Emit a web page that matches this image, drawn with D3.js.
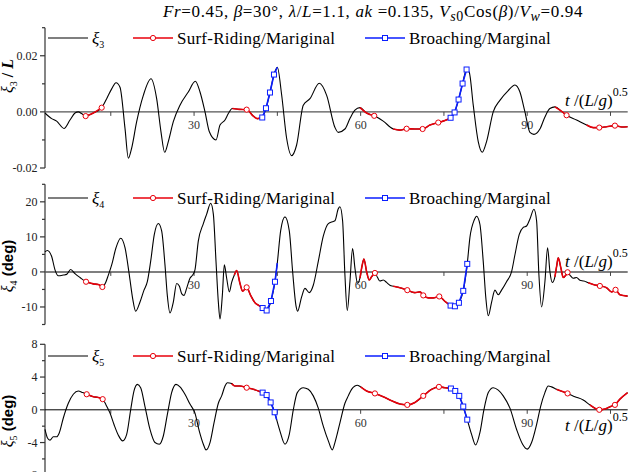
<!DOCTYPE html>
<html>
<head>
<meta charset="utf-8">
<script src="https://cdn.jsdelivr.net/npm/d3@7"></script>
<style>
  body { margin: 0; background: #fff; }
  svg text { font-family: "Liberation Serif", "Times New Roman", serif; fill: #000; }
</style>
</head>
<body>
<div id="chart"></div>
<script>
// time axis, t/(L/g)^0.5
const tDomain = [3.15, 108.1];
const xTicks = [15, 30, 45, 60, 75, 90, 105];
const xTickLabels = [30, 60, 90];

// heave xi3/L
const xi3 = [[3.15,-0.0004],[4.35,-0.0024],[5.25,-0.0033],[6.57,-0.0059],[7.65,-0.0029],[8.55,-0.0004],[9.15,0.0],[9.75,-0.0006],[10.47,-0.0015],[11.86,-0.0004],[13.36,0.0015],[14.26,0.0047],[15.16,0.0082],[15.94,0.0104],[16.66,0.0088],[17.56,-0.0059],[18.16,-0.0165],[18.76,-0.0129],[19.66,-0.0035],[20.86,0.0059],[22.24,0.0118],[23.26,0.0047],[24.04,-0.0071],[24.70,-0.0144],[25.36,-0.0106],[26.26,-0.0035],[27.46,0.0024],[28.96,0.0071],[30.22,0.0109],[31.07,0.0071],[31.97,0.0],[32.75,-0.0071],[33.95,-0.0100],[34.67,-0.0047],[35.57,-0.0029],[36.17,-0.0006],[36.89,0.0012],[38.15,0.0009],[39.47,0.0008],[40.67,-0.0015],[41.39,-0.0024],[42.28,-0.0020],[42.95,0.0013],[43.67,0.0069],[44.39,0.0133],[45.0,0.0159],[45.77,0.0061],[46.67,-0.0094],[47.57,-0.0156],[48.47,-0.0118],[49.67,0.0024],[50.87,0.0047],[52.55,0.0102],[53.88,0.0059],[55.38,-0.0056],[55.97,-0.0073],[57.17,-0.0061],[58.07,-0.0024],[58.97,0.0006],[59.87,0.0015],[61.07,-0.0004],[62.45,-0.0014],[64.07,-0.0033],[65.87,-0.0061],[67.08,-0.0065],[68.28,-0.0060],[69.78,-0.0061],[71.16,-0.0061],[72.48,-0.0047],[73.98,-0.0038],[75.18,-0.0031],[76.20,-0.0021],[76.92,-0.0002],[77.64,0.0044],[78.36,0.0101],[79.08,0.0151],[79.56,0.0141],[80.28,0.0024],[81.18,-0.0106],[81.90,-0.0144],[82.68,-0.0106],[83.88,0.0],[85.08,0.0041],[86.58,0.0076],[87.79,0.0096],[88.69,0.0071],[89.59,0.0],[90.49,-0.0073],[91.21,-0.0080],[92.29,-0.0061],[93.19,-0.0018],[94.09,0.0012],[94.99,0.0018],[96.19,0.0002],[97.09,-0.0012],[98.89,-0.0029],[100.69,-0.0047],[101.89,-0.0056],[102.98,-0.0056],[104.30,-0.0053],[105.80,-0.0049],[107.00,-0.0054],[108.08,-0.0053]];
const surf3 = [
  [[10.47,-0.0015],[11.86,-0.0004],[13.36,0.0015]],
  [[36.89,0.0012],[38.15,0.0009],[39.47,0.0008],[40.67,-0.0015],[41.39,-0.0024],[42.28,-0.0020]],
  [[59.87,0.0015],[61.07,-0.0004],[62.45,-0.0014]],
  [[65.87,-0.0061],[67.08,-0.0065],[68.28,-0.0060],[69.78,-0.0061],[71.16,-0.0061],[72.48,-0.0047],[73.98,-0.0038],[75.18,-0.0031],[76.20,-0.0021]],
  [[94.99,0.0018],[96.19,0.0002],[97.09,-0.0012]],
  [[100.69,-0.0047],[101.89,-0.0056],[102.98,-0.0056],[104.30,-0.0053],[105.80,-0.0049],[107.00,-0.0054],[108.08,-0.0053]]
];
const surfMarks3 = [[10.47,-0.0015],[13.36,0.0015],[39.47,0.0008],[62.45,-0.0014],[68.28,-0.0060],[71.16,-0.0061],[73.98,-0.0038],[97.09,-0.0012],[102.98,-0.0056],[105.80,-0.0049]];
const broach3 = [
  [[42.28,-0.0020],[42.95,0.0013],[43.67,0.0069],[44.39,0.0133],[45.0,0.0159]],
  [[76.20,-0.0021],[76.92,-0.0002],[77.64,0.0044],[78.36,0.0101],[79.08,0.0151]]
];
const broachMarks3 = [[42.28,-0.0020],[42.95,0.0013],[43.67,0.0069],[44.39,0.0133],[76.20,-0.0021],[76.92,-0.0002],[77.64,0.0044],[78.36,0.0101],[79.08,0.0151]];
const yTicks3 = [-0.02, 0.0, 0.02];
const yMinor3 = [-0.01, 0.01, 0.03];

// roll xi4 (deg)
const xi4 = [[3.15,5.7],[3.57,6.1],[4.35,4.4],[4.95,0.6],[5.55,-1.1],[6.45,-0.9],[7.05,-0.7],[7.77,0.7],[8.55,-0.5],[9.45,-1.6],[10.54,-2.8],[11.86,-3.4],[12.76,-3.6],[13.48,-4.3],[14.08,-3.0],[14.56,-0.9],[15.16,2.0],[15.94,6.9],[16.78,9.6],[17.56,6.9],[18.34,-0.9],[18.94,-7.6],[19.48,-11.2],[20.26,-8.6],[20.98,-5.2],[21.58,-2.8],[22.18,3.0],[22.84,10.7],[23.56,13.8],[24.16,11.7],[24.76,2.0],[25.18,-6.7],[25.66,-11.7],[26.26,-8.6],[26.86,-3.3],[27.34,-4.0],[27.76,-6.2],[28.18,-6.7],[28.66,-4.7],[29.26,-1.8],[29.74,-0.9],[30.16,0.6],[30.76,8.8],[31.67,13.8],[32.27,16.5],[32.99,19.6],[33.47,16.5],[33.95,3.0],[34.37,-8.6],[34.67,-13.4],[35.09,-6.7],[35.45,2.0],[35.87,-1.8],[36.35,-5.7],[36.77,-3.0],[37.25,-0.9],[37.67,0.4],[38.27,-3.3],[38.75,-5.5],[39.47,-4.4],[40.19,-6.7],[40.97,-8.8],[41.69,-9.6],[42.35,-10.3],[43.07,-11.0],[43.85,-8.3],[44.57,-2.8],[44.99,2.5],[45.59,11.7],[46.37,15.7],[47.15,11.7],[47.75,0.1],[48.35,-9.6],[48.65,-11.2],[49.37,-7.1],[49.97,-4.7],[50.75,-5.9],[51.47,-3.8],[52.37,3.0],[53.27,10.2],[54.18,13.8],[55.08,14.4],[55.37,14.6],[55.97,18.0],[56.27,18.6],[56.75,14.6],[57.17,-0.9],[57.59,-11.0],[58.07,-2.8],[58.55,6.7],[58.97,1.1],[59.45,-3.3],[59.87,-1.8],[60.29,2.0],[60.59,3.7],[61.07,0.1],[61.55,-2.3],[61.97,-1.4],[62.57,-0.3],[63.05,-1.6],[63.47,-2.6],[64.07,-2.3],[64.67,-3.0],[65.27,-3.8],[65.87,-4.1],[67.07,-4.5],[68.40,-5.2],[69.78,-5.9],[70.68,-5.7],[71.28,-6.7],[72.18,-7.4],[73.08,-7.4],[74.16,-7.0],[75.18,-8.4],[76.20,-9.6],[76.98,-9.8],[77.70,-8.8],[78.48,-5.4],[79.20,2.3],[79.68,9.8],[80.46,14.8],[80.88,15.9],[81.48,13.6],[82.08,3.0],[82.56,-7.6],[82.99,-12.5],[83.59,-8.6],[84.19,-5.2],[84.79,-6.5],[85.38,-5.2],[86.28,-2.8],[87.19,0.1],[87.79,4.9],[88.57,10.7],[89.29,12.7],[89.89,13.1],[90.49,15.1],[91.21,17.9],[91.69,14.6],[92.11,-0.9],[92.59,-10.0],[93.19,-2.8],[93.67,6.9],[94.09,0.1],[94.51,-3.0],[94.99,-1.4],[95.29,1.5],[95.59,4.0],[96.07,1.1],[96.49,-1.6],[96.97,-0.9],[97.27,-0.1],[97.69,-0.9],[98.29,-1.8],[98.89,-1.6],[99.49,-2.4],[100.21,-2.6],[100.99,-3.1],[101.89,-3.6],[103.09,-4.0],[104.29,-4.5],[105.19,-5.7],[105.91,-5.1],[106.69,-6.5],[108.08,-6.9]];
const surf4 = [
  [[10.54,-2.8],[11.86,-3.4],[12.76,-3.6],[13.48,-4.3]],
  [[37.25,-0.9],[37.67,0.4],[38.27,-3.3],[38.75,-5.5],[39.47,-4.4],[40.19,-6.7],[40.97,-8.8],[41.69,-9.6],[42.35,-10.3]],
  [[59.87,-1.8],[60.29,2.0],[60.59,3.7],[61.07,0.1],[61.55,-2.3],[61.97,-1.4],[62.57,-0.3]],
  [[65.87,-4.1],[67.07,-4.5],[68.40,-5.2],[69.78,-5.9],[70.68,-5.7],[71.28,-6.7],[72.18,-7.4],[73.08,-7.4],[74.16,-7.0],[75.18,-8.4],[76.20,-9.6]],
  [[94.99,-1.4],[95.29,1.5],[95.59,4.0],[96.07,1.1],[96.49,-1.6],[96.97,-0.9],[97.27,-0.1]],
  [[100.99,-3.1],[101.89,-3.6],[103.09,-4.0],[104.29,-4.5],[105.19,-5.7],[105.91,-5.1],[106.69,-6.5],[108.08,-6.9]]
];
const surfMarks4 = [[10.54,-2.8],[13.48,-4.3],[39.47,-4.4],[62.57,-0.3],[68.40,-5.2],[71.28,-6.7],[74.16,-7.0],[97.27,-0.1],[103.09,-4.0],[105.91,-5.1]];
const broach4 = [
  [[42.35,-10.3],[43.07,-11.0],[43.85,-8.3],[44.57,-2.8],[44.99,2.5]],
  [[76.20,-9.6],[76.98,-9.8],[77.70,-8.8],[78.48,-5.4],[79.20,2.3]]
];
const broachMarks4 = [[42.35,-10.3],[43.07,-11.0],[43.85,-8.3],[44.57,-2.8],[76.20,-9.6],[76.98,-9.8],[77.70,-8.8],[78.48,-5.4],[79.20,2.3]];
const yTicks4 = [-10, 0, 10, 20];
const yMinor4 = [-15, -5, 5, 15, 25];

// pitch xi5 (deg)
const xi5 = [[3.15,-2.4],[3.57,-3.4],[4.05,-3.7],[4.65,-3.3],[5.25,-3.3],[5.73,-2.8],[6.45,-1.0],[7.35,0.8],[8.25,1.9],[9.15,2.3],[9.93,2.1],[10.66,1.9],[11.86,1.6],[12.76,1.5],[13.54,1.3],[14.14,0.6],[14.86,-0.4],[15.58,-1.8],[16.36,-3.1],[17.14,-3.8],[17.86,-3.0],[18.58,0.0],[19.18,2.3],[19.78,3.1],[20.38,2.7],[21.16,0.4],[22.06,-2.4],[22.96,-4.0],[23.74,-4.2],[24.46,-3.2],[25.18,-0.6],[25.96,2.1],[26.74,3.1],[27.46,2.8],[28.36,1.9],[29.26,0.7],[30.16,-0.4],[30.94,-2.6],[31.67,-4.2],[32.15,-4.9],[32.87,-4.0],[33.59,-1.6],[34.37,0.8],[34.97,1.7],[35.57,2.9],[35.99,3.3],[36.77,3.2],[37.37,2.9],[38.27,2.9],[39.47,2.7],[40.67,2.5],[41.57,2.3],[42.35,2.1],[43.07,1.8],[43.79,0.9],[44.51,-0.3],[44.87,-1.2],[45.47,-2.6],[46.37,-4.2],[47.15,-3.0],[47.87,0.0],[48.59,2.1],[49.67,2.7],[50.57,2.5],[51.47,1.7],[52.37,0.2],[53.27,-2.0],[54.18,-3.8],[54.9,-4.9],[55.37,-4.0],[56.27,-1.6],[57.17,0.8],[57.77,1.7],[58.37,2.5],[58.97,2.9],[59.39,3.0],[59.99,2.8],[61.07,2.3],[62.57,2.0],[64.07,1.6],[65.58,1.1],[67.08,0.7],[68.40,0.6],[69.78,0.9],[71.28,1.7],[72.78,2.5],[74.10,2.8],[75.18,2.7],[76.26,2.6],[77.04,2.3],[77.76,1.7],[78.48,0.4],[79.20,-1.2],[79.98,-3.0],[80.70,-4.3],[81.48,-2.8],[82.20,0.0],[82.99,2.1],[83.88,2.7],[84.79,2.4],[85.68,1.7],[86.89,0.2],[88.09,-2.4],[89.17,-4.2],[90.01,-4.8],[90.79,-4.0],[91.69,-1.8],[92.41,0.4],[93.19,2.1],[93.79,2.9],[94.39,2.8],[95.29,2.5],[96.49,2.2],[97.27,2.0],[98.59,1.6],[100.09,1.2],[101.29,0.6],[102.19,0.2],[102.98,0.0],[104.00,0.1],[105.02,0.4],[105.80,0.6],[106.70,1.3],[108.08,2.1]];
const surf5 = [
  [[10.66,1.9],[11.86,1.6],[12.76,1.5],[13.54,1.3]],
  [[36.77,3.2],[37.37,2.9],[38.27,2.9],[39.47,2.7],[40.67,2.5],[41.57,2.3],[42.35,2.1]],
  [[59.99,2.8],[61.07,2.3],[62.57,2.0],[64.07,1.6],[65.58,1.1],[67.08,0.7],[68.40,0.6],[69.78,0.9],[71.28,1.7],[72.78,2.5],[74.10,2.8],[75.18,2.7],[76.26,2.6]],
  [[95.29,2.5],[96.49,2.2],[97.27,2.0]],
  [[101.29,0.6],[102.19,0.2],[102.98,0.0],[104.00,0.1],[105.02,0.4],[105.80,0.6],[106.70,1.3],[108.08,2.1]]
];
const surfMarks5 = [[10.66,1.9],[13.54,1.3],[39.47,2.7],[62.57,2.0],[68.40,0.6],[71.28,1.7],[74.10,2.8],[97.27,2.0],[102.98,0.0],[105.80,0.6]];
const broach5 = [
  [[42.35,2.1],[43.07,1.8],[43.79,0.9],[44.51,-0.3],[44.87,-1.2]],
  [[76.26,2.6],[77.04,2.3],[77.76,1.7],[78.48,0.4],[79.20,-1.2]]
];
const broachMarks5 = [[42.35,2.1],[43.07,1.8],[43.79,0.9],[44.51,-0.3],[76.26,2.6],[77.04,2.3],[77.76,1.7],[78.48,0.4],[79.20,-1.2]];
const yTicks5 = [-8, -4, 0, 4, 8];
const yMinor5 = [-6, -2, 2, 6];

const legendLabels = ["Surf-Riding/Mariginal", "Broaching/Marginal"];

const RED = "#e8000b", BLUE = "#0a1eff";

const svg = d3.select("#chart").append("svg")
  .attr("width", 637).attr("height", 472);

const x = d3.scaleLinear().domain(tDomain).range([45, 627.7]);

const panels = [
  { idx: "3", data: xi3, surf: surf3, surfMarks: surfMarks3, broach: broach3, broachMarks: broachMarks3,
    domain: [-0.02, 0.03], range: [168, 27.7], ticks: yTicks3, minor: yMinor3, fmt: d => d.toFixed(2),
    legendY: 38, zero: "#555", zeroW: 1.4, titleY: 76, xLabelDy: -6 },
  { idx: "4", data: xi4, surf: surf4, surfMarks: surfMarks4, broach: broach4, broachMarks: broachMarks4,
    domain: [-15, 25], range: [324.5, 184.3], ticks: yTicks4, minor: yMinor4, fmt: d => String(d),
    legendY: 198, zero: "#555", zeroW: 1.4, titleY: 266, xLabelDy: -5 },
  { idx: "5", data: xi5, surf: surf5, surfMarks: surfMarks5, broach: broach5, broachMarks: broachMarks5,
    domain: [-8, 8], range: [475.3, 344.3], ticks: yTicks5, minor: yMinor5, fmt: d => String(d),
    legendY: 356, zero: "#000", zeroW: 1, titleY: 421, xLabelDy: 21 }
];

panels.forEach(p => {
  const y = d3.scaleLinear().domain(p.domain).range(p.range);
  const g = svg.append("g");
  const y0 = y(0);

  // left axis
  g.append("line").attr("x1", 45).attr("x2", 45)
    .attr("y1", p.range[0]).attr("y2", p.range[1])
    .attr("stroke", "#333").attr("stroke-width", 1.2);
  g.selectAll(".maj").data(p.ticks).join("line")
    .attr("x1", 40).attr("x2", 45).attr("y1", d => y(d)).attr("y2", d => y(d))
    .attr("stroke", "#333").attr("stroke-width", 1.2);
  g.selectAll(".mnr").data(p.minor).join("line")
    .attr("x1", 42).attr("x2", 45).attr("y1", d => y(d)).attr("y2", d => y(d))
    .attr("stroke", "#333").attr("stroke-width", 1.2);
  g.selectAll(".ylab").data(p.ticks).join("text")
    .attr("x", 37.5).attr("y", d => y(d) + 4)
    .attr("text-anchor", "end").attr("font-size", 12).style("fill", "#222")
    .text(p.fmt);

  // zero line used as time axis
  g.append("line").attr("x1", 45).attr("x2", 627.7).attr("y1", y0).attr("y2", y0)
    .attr("stroke", p.zero).attr("stroke-width", p.zeroW);
  g.selectAll(".xt").data(xTicks).join("line")
    .attr("x1", d => x(d)).attr("x2", d => x(d))
    .attr("y1", y0).attr("y2", y0 + 4)
    .attr("stroke", "#444").attr("stroke-width", 1);
  g.selectAll(".xl").data(xTickLabels).join("text")
    .attr("x", d => x(d)).attr("y", y0 + 17)
    .attr("text-anchor", "middle").attr("font-size", 12).style("fill", "#333")
    .text(d => d);

  // time label
  const tl = g.append("text").attr("x", 565).attr("y", y0 + p.xLabelDy).attr("font-size", 17);
  tl.append("tspan").attr("font-style", "italic").text("t");
  tl.append("tspan").text(" /(");
  tl.append("tspan").attr("font-style", "italic").text("L");
  tl.append("tspan").text("/");
  tl.append("tspan").attr("font-style", "italic").text("g");
  tl.append("tspan").text(")");
  tl.append("tspan").attr("font-size", 12).attr("dy", -10).text("0.5");

  // series
  const smooth = d3.line().curve(d3.curveMonotoneX).x(d => x(d[0])).y(d => y(d[1]));
  const straight = d3.line().x(d => x(d[0])).y(d => y(d[1]));

  g.append("path").datum(p.data)
    .attr("fill", "none").attr("stroke", "#000").attr("stroke-width", 1.1)
    .attr("stroke-linejoin", "round").attr("d", smooth);

  g.selectAll(".surf").data(p.surf).join("path")
    .attr("fill", "none").attr("stroke", RED).attr("stroke-width", 1.6)
    .attr("stroke-linejoin", "round").attr("d", smooth);
  g.selectAll(".broach").data(p.broach).join("path")
    .attr("fill", "none").attr("stroke", BLUE).attr("stroke-width", 1.6)
    .attr("d", straight);

  g.selectAll(".sm").data(p.surfMarks).join("circle")
    .attr("cx", d => x(d[0])).attr("cy", d => y(d[1])).attr("r", 2.6)
    .attr("fill", "#fff").attr("stroke", RED).attr("stroke-width", 1);
  g.selectAll(".bm").data(p.broachMarks).join("rect")
    .attr("x", d => x(d[0]) - 2.5).attr("y", d => y(d[1]) - 2.5)
    .attr("width", 5).attr("height", 5)
    .attr("fill", "#fff").attr("stroke", BLUE).attr("stroke-width", 1);

  // legend
  const ly = p.legendY;
  g.append("line").attr("x1", 48).attr("x2", 88).attr("y1", ly).attr("y2", ly)
    .attr("stroke", "#000").attr("stroke-width", 1.1);
  const lt = g.append("text").attr("x", 92).attr("y", ly + 6).attr("font-size", 17);
  lt.append("tspan").attr("font-style", "italic").text("ξ");
  lt.append("tspan").attr("font-size", 10).attr("dy", 4).text(p.idx);

  g.append("line").attr("x1", 133).attr("x2", 173).attr("y1", ly).attr("y2", ly)
    .attr("stroke", RED).attr("stroke-width", 1.6);
  g.append("circle").attr("cx", 153).attr("cy", ly).attr("r", 2.6)
    .attr("fill", "#fff").attr("stroke", RED).attr("stroke-width", 1);
  g.append("text").attr("x", 177).attr("y", ly + 6).attr("font-size", 17)
    .attr("letter-spacing", 0.25).text(legendLabels[0]);

  g.append("line").attr("x1", 365).attr("x2", 405).attr("y1", ly).attr("y2", ly)
    .attr("stroke", BLUE).attr("stroke-width", 1.6);
  g.append("rect").attr("x", 382.5).attr("y", ly - 2.5).attr("width", 5).attr("height", 5)
    .attr("fill", "#fff").attr("stroke", BLUE).attr("stroke-width", 1);
  g.append("text").attr("x", 409).attr("y", ly + 6).attr("font-size", 17)
    .attr("letter-spacing", 0.25).text(legendLabels[1]);

  // y title
  const yt = g.append("text")
    .attr("transform", `translate(13,${p.titleY}) rotate(-90)`)
    .attr("text-anchor", "middle").attr("font-size", 16).attr("font-weight", "bold");
  yt.append("tspan").attr("font-style", "italic").attr("font-weight", "normal").text("ξ");
  yt.append("tspan").attr("font-size", 10).attr("font-weight", "normal").attr("dy", 4).text(p.idx);
  if (p.idx === "3") {
    yt.append("tspan").attr("dy", -4).text(" / ");
    yt.append("tspan").attr("font-style", "italic").text("L");
  } else {
    yt.append("tspan").attr("dy", -4).attr("font-family", "Liberation Sans, Arial, sans-serif").attr("font-size", 15).text(" (deg)");
  }
});

// title
const title = svg.append("text").attr("x", 163).attr("y", 17).attr("font-size", 17)
  .attr("letter-spacing", 0.65);
const parts = [
  ["Fr", true], ["=0.45, ", false], ["β", true], ["=30°, ", false], ["λ", true], ["/", false],
  ["L", true], ["=1.1, ", false], ["ak", true], [" =0.135, ", false], ["V", true]
];
parts.forEach(([s, it]) => title.append("tspan").attr("font-style", it ? "italic" : "normal").text(s));
title.append("tspan").attr("font-style", "italic").attr("font-size", 14).attr("dy", 4).text("s");
title.append("tspan").attr("font-size", 14).text("0");
title.append("tspan").attr("dy", -4).text("Cos(");
title.append("tspan").attr("font-style", "italic").text("β");
title.append("tspan").text(")/");
title.append("tspan").attr("font-style", "italic").text("V");
title.append("tspan").attr("font-style", "italic").attr("font-size", 14).attr("dy", 4).text("w");
title.append("tspan").attr("dy", -4).text("=0.94");
</script>
</body>
</html>
